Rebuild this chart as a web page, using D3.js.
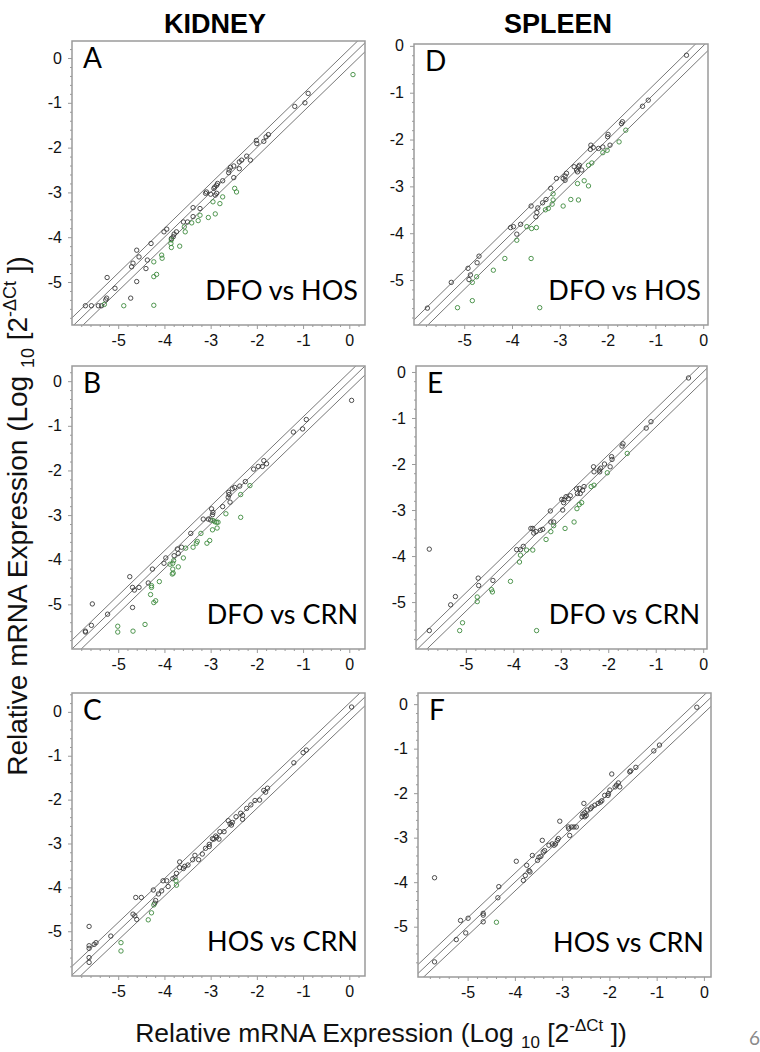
<!DOCTYPE html>
<html>
<head>
<meta charset="utf-8">
<script src="https://cdn.jsdelivr.net/npm/d3@7"></script>
<style>
  body { margin: 0; background: #fff; }
  svg { display: block; }
</style>
</head>
<body>
<svg id="chart" width="760" height="1052"></svg>
<script>
// ---- data: [log10 x, log10 y] per gene, black = within band, green = flagged ----
const kidneyDfoHosBlack = [[-0.89,-0.79],[-0.96,-1.00],[-1.18,-1.08],[-2.01,-1.84],[-2.00,-1.91],[-1.85,-1.86],[-1.75,-1.71],[-1.80,-1.76],
  [-2.22,-2.19],[-2.33,-2.28],[-2.38,-2.32],[-2.14,-2.28],[-2.38,-2.47],[-2.50,-2.41],[-2.57,-2.44],[-2.60,-2.50],[-2.61,-2.56],[-2.50,-2.67],
  [-2.74,-2.74],[-2.85,-2.80],[-2.87,-2.84],[-2.91,-2.88],[-2.93,-2.91],[-2.87,-3.02],[-2.90,-3.06],[-3.00,-3.04],[-3.09,-2.99],[-3.11,-3.02],
  [-3.38,-3.34],[-3.23,-3.36],[-3.38,-3.54],[-3.50,-3.66],[-3.59,-3.66],[-3.74,-3.88],[-3.79,-3.93],[-3.81,-3.99],[-3.85,-4.03],[-3.95,-3.82],
  [-4.01,-3.88],[-4.29,-4.14],[-4.37,-4.51],[-4.40,-4.70],[-4.60,-4.29],[-4.55,-4.44],[-4.68,-4.58],[-4.71,-4.66],[-5.24,-4.90],[-5.07,-5.14],
  [-5.25,-5.36],[-5.27,-5.40],[-5.71,-5.53],[-5.58,-5.53],[-5.43,-5.53],[-5.36,-5.53],[-4.60,-4.99],[-4.73,-5.36]];
const kidneyDfoHosGreen = [[0.08,-0.37],[-2.48,-2.91],[-2.44,-2.99],[-2.74,-3.10],[-2.80,-3.25],[-2.95,-3.21],[-2.90,-3.48],[-3.05,-3.56],
  [-3.23,-3.51],[-3.27,-3.63],[-3.41,-3.68],[-3.57,-3.77],[-3.55,-3.88],[-3.67,-4.20],[-3.85,-4.06],[-3.86,-4.14],[-3.85,-4.23],[-4.06,-4.40],
  [-4.05,-4.47],[-4.17,-4.83],[-4.23,-4.88],[-4.23,-4.55],[-4.88,-5.53],[-4.23,-5.52],[-5.30,-5.50]];

const kidneyDfoCrnBlack = [[0.05,-0.43],[-0.93,-0.86],[-1.01,-1.07],[-1.21,-1.14],[-1.85,-1.78],[-1.79,-1.85],[-1.88,-1.91],[-1.97,-1.91],
  [-2.07,-1.97],[-2.25,-2.25],[-2.37,-2.35],[-2.48,-2.38],[-2.53,-2.41],[-2.61,-2.49],[-2.60,-2.54],[-2.62,-2.60],[-2.58,-2.71],[-2.74,-2.81],
  [-2.98,-2.86],[-2.95,-2.94],[-2.96,-2.99],[-3.05,-3.09],[-3.00,-3.11],[-3.16,-3.09],[-3.43,-3.41],[-3.63,-3.72],[-3.72,-3.76],[-3.70,-3.86],
  [-3.79,-3.91],[-3.97,-3.96],[-4.01,-4.08],[-4.26,-4.21],[-4.35,-4.52],[-4.55,-4.62],[-4.65,-4.68],[-4.69,-4.62],[-4.75,-4.38],[-5.23,-5.22],
  [-5.56,-4.99],[-4.69,-5.07],[-5.58,-5.47],[-5.71,-5.60],[-5.71,-5.62]];
const kidneyDfoCrnGreen = [[-2.15,-2.34],[-2.35,-2.54],[-2.35,-3.05],[-2.67,-2.97],[-2.87,-3.16],[-2.84,-3.16],[-2.91,-3.15],[-2.95,-3.12],
  [-2.86,-3.29],[-2.96,-3.33],[-3.02,-3.57],[-3.08,-3.63],[-3.21,-3.41],[-3.29,-3.59],[-3.31,-3.63],[-3.38,-3.72],[-3.54,-3.74],[-3.59,-3.96],
  [-3.70,-4.16],[-3.80,-4.02],[-3.82,-4.08],[-3.82,-4.21],[-3.81,-4.30],[-3.83,-4.32],[-3.88,-4.10],[-4.11,-4.49],[-4.28,-4.58],[-4.28,-4.62],
  [-4.30,-4.78],[-4.19,-4.92],[-4.23,-4.96],[-5.01,-5.49],[-5.01,-5.62],[-4.68,-5.60],[-4.42,-5.45]];

const kidneyHosCrnBlack = [[0.05,0.11],[-0.93,-0.87],[-1.00,-0.93],[-1.20,-1.16],[-1.77,-1.74],[-1.81,-1.83],[-1.85,-1.79],[-1.94,-2.01],
  [-2.04,-2.02],[-2.13,-2.12],[-2.22,-2.20],[-2.31,-2.36],[-2.31,-2.45],[-2.35,-2.31],[-2.45,-2.39],[-2.53,-2.52],[-2.55,-2.58],[-2.58,-2.55],
  [-2.62,-2.48],[-2.71,-2.73],[-2.80,-2.73],[-2.82,-2.90],[-2.87,-2.86],[-2.89,-2.83],[-2.93,-2.90],[-2.96,-2.89],[-3.03,-3.02],[-3.03,-3.07],
  [-3.11,-3.11],[-3.18,-3.24],[-3.26,-3.37],[-3.34,-3.27],[-3.39,-3.37],[-3.49,-3.49],[-3.56,-3.52],[-3.59,-3.57],[-3.67,-3.42],[-3.67,-3.55],
  [-3.74,-3.68],[-3.82,-3.80],[-3.77,-3.77],[-3.95,-3.85],[-4.03,-3.85],[-3.92,-3.98],[-4.06,-4.08],[-4.13,-4.15],[-4.24,-4.06],[-4.19,-4.30],
  [-4.21,-4.36],[-4.50,-4.23],[-4.62,-4.23],[-4.68,-4.61],[-4.64,-4.65],[-4.60,-4.73],[-5.16,-5.11],[-5.48,-5.26],[-5.52,-5.30],[-5.63,-4.89],
  [-5.63,-5.33],[-5.63,-5.39],[-5.63,-5.60],[-5.63,-5.71]];
const kidneyHosCrnGreen = [[-3.75,-3.85],[-3.74,-3.95],[-4.28,-4.58],[-4.35,-4.74],[-4.23,-4.40],[-4.94,-5.26],[-4.94,-5.45]];

const spleenDfoHosBlack = [[-0.35,-0.20],[-1.15,-1.16],[-1.27,-1.29],[-1.69,-1.62],[-1.71,-1.66],[-1.99,-1.89],[-2.00,-1.94],[-1.95,-2.12],
  [-2.10,-2.16],[-2.19,-2.19],[-2.30,-2.17],[-2.35,-2.12],[-2.36,-2.21],[-2.59,-2.55],[-2.61,-2.58],[-2.65,-2.65],[-2.63,-2.69],[-2.70,-2.58],
  [-2.54,-2.65],[-2.86,-2.72],[-2.89,-2.78],[-2.93,-2.83],[-2.89,-2.87],[-3.07,-2.83],[-3.19,-3.04],[-3.29,-3.28],[-3.36,-3.35],[-3.46,-3.46],
  [-3.48,-3.56],[-3.50,-3.65],[-3.60,-3.42],[-3.82,-3.81],[-3.90,-4.02],[-3.97,-3.86],[-4.03,-3.88],[-4.69,-4.49],[-4.73,-4.63],[-4.92,-4.75],
  [-4.87,-4.89],[-4.90,-4.99],[-5.27,-5.05],[-5.77,-5.60]];
const spleenDfoHosGreen = [[-1.62,-1.80],[-1.76,-2.05],[-2.01,-2.23],[-2.10,-2.28],[-2.33,-2.50],[-2.40,-2.55],[-2.40,-2.99],[-2.49,-2.88],
  [-2.63,-2.94],[-2.61,-3.29],[-2.77,-3.28],[-2.93,-3.42],[-3.14,-3.16],[-3.14,-3.29],[-3.16,-3.38],[-3.24,-3.47],[-3.30,-3.50],[-3.69,-3.86],
  [-3.59,-3.90],[-3.49,-3.88],[-3.90,-4.15],[-4.39,-4.79],[-4.15,-4.54],[-3.60,-4.54],[-4.74,-4.93],[-4.83,-5.05],[-4.83,-5.44],[-5.14,-5.59],
  [-3.42,-5.59]];

const spleenDfoCrnBlack = [[-0.31,-0.13],[-1.10,-1.08],[-1.20,-1.22],[-1.69,-1.56],[-1.71,-1.61],[-1.93,-1.84],[-1.92,-1.90],[-1.96,-2.06],
  [-2.08,-2.00],[-2.16,-2.09],[-2.18,-2.17],[-2.19,-2.13],[-2.31,-2.06],[-2.30,-2.17],[-2.51,-2.49],[-2.54,-2.57],[-2.61,-2.53],[-2.65,-2.64],
  [-2.59,-2.64],[-2.67,-2.54],[-2.80,-2.69],[-2.84,-2.75],[-2.89,-2.71],[-2.93,-2.78],[-2.94,-2.84],[-2.96,-3.00],[-2.98,-2.77],[-3.22,-3.02],
  [-3.21,-3.26],[-3.15,-3.26],[-3.38,-3.42],[-3.43,-3.44],[-3.52,-3.47],[-3.57,-3.50],[-3.59,-3.40],[-3.63,-3.40],[-3.93,-3.86],[-3.85,-3.86],
  [-3.79,-3.79],[-4.74,-4.48],[-4.73,-4.64],[-4.43,-4.53],[-5.22,-4.88],[-5.32,-5.06],[-5.77,-3.85],[-5.77,-5.62]];
const spleenDfoCrnGreen = [[-1.60,-1.77],[-2.02,-2.19],[-2.30,-2.46],[-2.36,-2.49],[-2.56,-2.84],[-2.61,-2.88],[-2.66,-2.97],[-2.72,-3.26],
  [-2.91,-3.40],[-3.15,-3.34],[-3.21,-3.47],[-3.31,-3.64],[-3.59,-3.87],[-3.72,-3.87],[-3.85,-3.98],[-3.87,-4.13],[-4.06,-4.55],[-4.46,-4.73],
  [-4.44,-4.78],[-4.76,-4.89],[-4.76,-4.99],[-5.13,-5.62],[-5.07,-5.45],[-3.51,-5.62]];

const spleenHosCrnBlack = [[-0.15,-0.07],[-0.94,-0.92],[-1.06,-1.05],[-1.44,-1.42],[-1.55,-1.50],[-1.57,-1.52],[-1.95,-1.57],[-1.81,-1.77],
  [-1.85,-1.82],[-1.88,-1.86],[-1.78,-1.86],[-1.99,-1.93],[-2.02,-2.01],[-2.03,-2.05],[-2.10,-2.05],[-2.16,-2.17],[-2.19,-2.20],[-2.24,-2.23],
  [-2.31,-2.27],[-2.37,-2.31],[-2.40,-2.35],[-2.47,-2.38],[-2.52,-2.44],[-2.56,-2.47],[-2.52,-2.53],[-2.49,-2.50],[-2.58,-2.53],[-2.54,-2.23],
  [-2.70,-2.76],[-2.75,-2.76],[-2.80,-2.76],[-2.86,-2.80],[-2.87,-2.76],[-2.84,-2.95],[-3.05,-2.63],[-3.08,-3.02],[-3.10,-3.06],[-3.14,-3.14],
  [-3.17,-3.17],[-3.21,-3.14],[-3.28,-3.17],[-3.42,-3.06],[-3.37,-3.29],[-3.40,-3.32],[-3.45,-3.42],[-3.49,-3.44],[-3.52,-3.51],[-3.63,-3.40],
  [-3.75,-3.62],[-3.70,-3.74],[-3.68,-3.77],[-3.78,-3.85],[-3.82,-3.96],[-3.97,-3.53],[-4.34,-4.10],[-4.36,-4.35],[-5.70,-3.90],[-4.67,-4.70],
  [-4.67,-4.74],[-4.67,-4.89],[-4.99,-4.81],[-5.15,-4.86],[-5.04,-5.14],[-5.24,-5.29],[-5.70,-5.79]];
const spleenHosCrnGreen = [[-4.39,-4.90]];

const majorTicks = [0, -1, -2, -3, -4, -5];
const tickLabels = ['0', '-1', '-2', '-3', '-4', '-5'];
const bandOffsets = [0.2, 0, -0.2];   // identity line and fold-change band
const columnTitles = ['KIDNEY', 'SPLEEN'];
const comparisons = ['DFO vs HOS', 'DFO vs CRN', 'HOS vs CRN'];

const panels = [
  {letter:'A', text:comparisons[0], black:kidneyDfoHosBlack, green:kidneyDfoHosGreen, box:[72,41,365,325], xd:[-6.0,0.34], yd:[-5.96,0.38]},
  {letter:'B', text:comparisons[1], black:kidneyDfoCrnBlack, green:kidneyDfoCrnGreen, box:[72,366,365,649], xd:[-6.0,0.34], yd:[-6.0,0.34]},
  {letter:'C', text:comparisons[2], black:kidneyHosCrnBlack, green:kidneyHosCrnGreen, box:[72,693,365,976], xd:[-6.0,0.34], yd:[-6.02,0.43]},
  {letter:'D', text:comparisons[0], black:spleenDfoHosBlack, green:spleenDfoHosGreen, box:[414,44,708,325], xd:[-6.05,0.10], yd:[-5.96,0.04]},
  {letter:'E', text:comparisons[1], black:spleenDfoCrnBlack, green:spleenDfoCrnGreen, box:[416,366,707,649], xd:[-6.05,0.08], yd:[-6.02,0.13]},
  {letter:'F', text:comparisons[2], black:spleenHosCrnBlack, green:spleenHosCrnGreen, box:[418,693,711,977], xd:[-6.05,0.15], yd:[-6.13,0.25]}
];

const svg = d3.select('#chart');
const frameColor = '#9a9a9a';
const labelFont = 'Lato, "Open Sans", sans-serif';
const axisFont = '"Liberation Sans", Arial, sans-serif';

// column titles
svg.selectAll('text.coltitle')
  .data(columnTitles)
  .join('text')
    .attr('class', 'coltitle')
    .attr('x', (d, i) => i === 0 ? 215 : 558)
    .attr('y', 33)
    .attr('text-anchor', 'middle')
    .style('font-family', axisFont)
    .style('font-weight', 'bold')
    .style('font-size', '27px')
    .text(d => d);

panels.forEach((p, pi) => {
  const [x0, y0, x1, y1] = p.box;
  const x = d3.scaleLinear().domain(p.xd).range([x0, x1]);
  const y = d3.scaleLinear().domain(p.yd).range([y1, y0]);
  const g = svg.append('g');

  const minor = d3.range(-30, 3).map(v => v / 5).filter(v => Math.abs(v - Math.round(v)) > 0.01);

  // minor ticks
  g.append('g').attr('transform', `translate(0,${y1})`)
    .call(d3.axisBottom(x).tickValues(minor.filter(v => v > p.xd[0] && v < p.xd[1])).tickSize(2).tickFormat(''))
    .call(a => a.select('.domain').remove())
    .call(a => a.selectAll('line').attr('stroke', frameColor));
  g.append('g').attr('transform', `translate(${x0},0)`)
    .call(d3.axisLeft(y).tickValues(minor.filter(v => v > p.yd[0] && v < p.yd[1])).tickSize(2).tickFormat(''))
    .call(a => a.select('.domain').remove())
    .call(a => a.selectAll('line').attr('stroke', frameColor));

  // major ticks
  g.append('g').attr('transform', `translate(0,${y1})`)
    .call(d3.axisBottom(x).tickValues(majorTicks).tickSize(4).tickPadding(6)
      .tickFormat((d, i) => tickLabels[i]))
    .call(a => a.select('.domain').remove())
    .call(a => a.selectAll('line').attr('stroke', frameColor))
    .call(a => a.selectAll('text').style('font-family', axisFont).style('font-size', '16px').attr('fill', '#111'));
  g.append('g').attr('transform', `translate(${x0},0)`)
    .call(d3.axisLeft(y).tickValues(majorTicks).tickSize(4).tickPadding(6)
      .tickFormat((d, i) => tickLabels[i]))
    .call(a => a.select('.domain').remove())
    .call(a => a.selectAll('line').attr('stroke', frameColor))
    .call(a => a.selectAll('text').style('font-family', axisFont).style('font-size', '16px').attr('fill', '#111'));

  // clip for diagonal lines
  const clipId = 'clip' + pi;
  g.append('clipPath').attr('id', clipId)
    .append('rect').attr('x', x0).attr('y', y0).attr('width', x1 - x0).attr('height', y1 - y0);

  g.append('g').attr('clip-path', `url(#${clipId})`)
    .selectAll('line')
    .data(bandOffsets)
    .join('line')
      .attr('x1', x(-7)).attr('y1', c => y(-7 + c))
      .attr('x2', x(1)).attr('y2', c => y(1 + c))
      .attr('stroke', '#777')
      .attr('stroke-width', 1);

  // points
  g.append('g').selectAll('circle')
    .data(p.black)
    .join('circle')
      .attr('cx', d => x(d[0]))
      .attr('cy', d => y(d[1]))
      .attr('r', 2.2)
      .attr('fill', 'none')
      .attr('stroke', '#3a3a3a')
      .attr('stroke-width', 0.9);
  g.append('g').selectAll('circle')
    .data(p.green)
    .join('circle')
      .attr('cx', d => x(d[0]))
      .attr('cy', d => y(d[1]))
      .attr('r', 2.2)
      .attr('fill', 'none')
      .attr('stroke', '#3d8a3d')
      .attr('stroke-width', 0.9);

  // frame
  g.append('rect')
    .attr('x', x0).attr('y', y0)
    .attr('width', x1 - x0).attr('height', y1 - y0)
    .attr('fill', 'none')
    .attr('stroke', frameColor)
    .attr('stroke-width', 1.5);

  // panel letter and comparison label
  g.append('text')
    .attr('x', x0 + 11).attr('y', y0 + 27)
    .style('font-family', labelFont).style('font-size', '28px')
    .text(p.letter);
  g.append('text')
    .attr('x', x1 - 7).attr('y', y1 - 25)
    .attr('text-anchor', 'end')
    .style('font-family', labelFont).style('font-size', '27px')
    .text(p.text);
});

// axis titles with sub/superscripts
function axisTitle(sel, size) {
  const s = size / 25;
  sel.style('font-family', axisFont).style('font-size', size + 'px').attr('fill', '#111');
  sel.append('tspan').text('Relative mRNA Expression (Log ');
  sel.append('tspan').attr('dy', 6 * s).style('font-size', (16 * s) + 'px').text('10');
  sel.append('tspan').attr('dy', -6 * s).text(' [2');
  sel.append('tspan').attr('dy', -10 * s).style('font-size', (16 * s) + 'px').text('-ΔCt');
  sel.append('tspan').attr('dy', 10 * s).text(' ])');
}
svg.append('text')
  .attr('x', 381).attr('y', 1042)
  .attr('text-anchor', 'middle')
  .call(axisTitle, 26.5);
svg.append('text')
  .attr('transform', 'translate(27,516) rotate(-90)')
  .attr('text-anchor', 'middle')
  .call(axisTitle, 28);

// page number
svg.append('text')
  .attr('x', 749).attr('y', 1045)
  .style('font-family', labelFont).style('font-size', '19px')
  .attr('fill', '#8a8a8a')
  .text('6');
</script>
</body>
</html>
